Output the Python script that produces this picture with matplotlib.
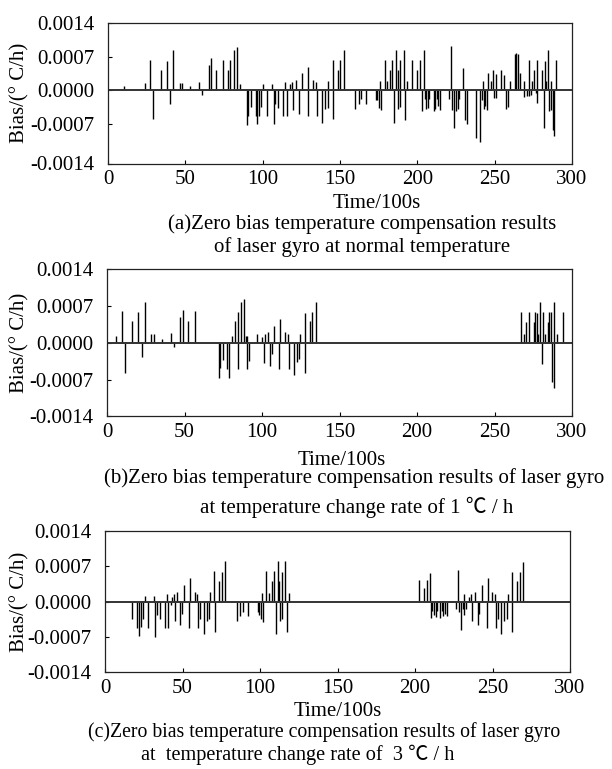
import matplotlib
matplotlib.use("Agg")
import matplotlib.pyplot as plt

plt.rcParams['font.family'] = ['Liberation Serif', 'Noto Sans CJK SC', 'DejaVu Sans']

## (a) normal temperature
t_a = [10.5, 23.8, 27.2, 29.3, 34.1, 37.9, 40.3, 42.2, 46.5, 48.0, 53.1, 58.9, 60.8, 65.1, 66.6,
       69.8, 74.3, 77.5, 79.0, 81.4, 83.1, 85.3, 89.8, 90.6, 92.3, 95.5, 96.6, 97.7, 99.2, 100.1,
       102.6, 106.2, 107.1, 108.0, 109.9, 112.9, 114.4, 115.7, 117.6, 119.1, 119.3, 121.7, 123.4,
       125.7, 129.2, 129.6, 132.8, 134.7, 135.0, 138.4, 140.5, 142.0, 142.2, 145.4, 145.6, 148.5,
       150.1, 152.3, 159.8, 162.1, 163.6, 166.8, 173.3, 174.1, 175.2, 175.8, 176.7, 179.0, 180.7,
       182.2, 183.8, 185.2, 186.1, 187.2, 187.4, 188.9, 189.1, 191.5, 192.2, 193.4, 196.7, 199.9,
       201.8, 203.3, 204.1, 204.8, 205.4, 206.9, 207.8, 210.6, 211.7, 212.7, 213.4, 214.7, 220.2,
       221.5, 222.5, 223.8, 225.3, 226.2, 226.9, 229.4, 230.5, 232.0, 238.2, 240.8, 241.8, 242.4,
       242.9, 243.8, 244.9, 245.7, 247.6, 248.9, 249.7, 250.6, 250.8, 253.8, 255.8, 257.5, 258.5,
       260.0, 263.2, 264.1, 264.9, 266.7, 268.8, 269.1, 271.0, 272.1, 272.3, 273.6, 274.2, 275.7,
       276.5, 277.4, 277.6, 280.6, 281.9, 282.3, 282.9, 284.7, 285.1, 286.2, 286.6, 287.7, 288.5,
       289.8]
v_a = [0.00008, 0.00014, 0.00063, -0.00061, 0.00042, 0.00061, -0.00029, 0.00083, 0.00015, 0.00015,
       0.00008, 0.00018, -0.00010, 0.00053, 0.00067, 0.00042, 0.00062, 0.00042, 0.00062, 0.00084,
       0.00090, 0.00012, -0.00073, -0.00054, -0.00036, -0.00054, -0.00070, -0.00053, -0.00036,
       0.00012, -0.00054, 0.00012, -0.00071, -0.00029, -0.00037, -0.00054, 0.00017, -0.00054,
       0.00012, 0.00017, -0.00041, 0.00022, -0.00049, 0.00036, -0.00054, 0.00049, 0.00022, 0.00017,
       -0.00054, -0.00068, -0.00039, 0.00019, -0.00037, 0.00062, -0.00061, 0.00042, 0.00063,
       0.00083, -0.00039, -0.00029, -0.00019, -0.00029, -0.00020, -0.00021, -0.00037, 0.00019,
       -0.00041, 0.00062, 0.00019, 0.00042, 0.00062, -0.00068, 0.00083, 0.00042, -0.00039, 0.00062,
       -0.00036, 0.00083, -0.00062, 0.00019, 0.00062, 0.00042, 0.00062, -0.00044, 0.00083, -0.00019,
       -0.00039, -0.00037, -0.00019, -0.00044, -0.00039, -0.00019, -0.00034, -0.00041, -0.00019,
       0.00093, -0.00041, -0.00080, -0.00044, -0.00039, -0.00019, 0.00046, -0.00062, -0.00070,
       -0.00100, -0.00109, -0.00020, 0.00019, -0.00039, -0.00034, -0.00041, 0.00036, 0.00019,
       0.00041, -0.00017, 0.00034, -0.00017, 0.00041, 0.00031, -0.00039, -0.00036, 0.00019, 0.00076,
       0.00077, 0.00076, 0.00035, 0.00019, -0.00014, -0.00012, 0.00062, -0.00012, -0.00010, 0.00019,
       0.00042, -0.00007, 0.00062, -0.00027, 0.00042, -0.00080, 0.00061, 0.00019, 0.00083, -0.00044,
       -0.00041, 0.00019, -0.00083, -0.00095, 0.00062]

## (b) 1 C/h
t_b = [6.0, 9.4, 11.6, 16.3, 19.9, 22.7, 24.4, 28.7, 30.4, 35.3, 41.1, 43.1, 47.3, 48.8, 52.1,
       56.6, 72.0, 72.8, 74.7, 77.5, 79.0, 80.5, 82.4, 84.3, 84.8, 86.5, 88.2, 89.5, 90.0, 90.4,
       91.7, 96.8, 100.0, 101.5, 102.0, 104.1, 105.4, 106.5, 108.0, 111.2, 111.8, 115.0, 116.7,
       117.4, 120.8, 122.9, 124.0, 124.7, 127.6, 128.0, 130.8, 132.5, 134.9,
       267.4, 269.3, 270.6, 272.5, 275.7, 276.3, 277.4, 278.3, 279.6, 280.6, 281.5, 282.3, 284.4,
       285.3, 286.4, 287.3, 288.5, 288.6, 290.6, 294.3]
v_b = [0.00014, 0.00060, -0.00057, 0.00041, 0.00058, -0.00026, 0.00078, 0.00016, 0.00016, 0.00008,
       0.00018, -0.00008, 0.00050, 0.00063, 0.00041, 0.00060, -0.00066, -0.00047, -0.00033,
       -0.00049, -0.00066, 0.00013, 0.00041, 0.00058, -0.00050, 0.00078, 0.00083, 0.00013, -0.00050,
       0.00013, -0.00035, 0.00016, 0.00011, -0.00038, 0.00016, 0.00021, -0.00044, -0.00022, 0.00033,
       -0.00050, 0.00046, 0.00021, 0.00017, -0.00050, -0.00061, -0.00036, -0.00031, 0.00017,
       0.00056, -0.00057, 0.00041, 0.00058, 0.00077,
       0.00058, 0.00017, 0.00040, 0.00058, 0.00040, 0.00058, 0.00056, 0.00017, 0.00077, -0.00041,
       0.00058, 0.00017, 0.00040, 0.00058, 0.00058, -0.00075, 0.00077, -0.00086, 0.00017, 0.00058]

## (c) 3 C/h
t_c = [17.5, 20.8, 22.0, 23.1, 24.6, 25.5, 28.0, 31.7, 32.5, 33.6, 35.3, 38.5, 39.8, 40.9, 42.4,
       43.0, 44.3, 44.9, 46.6, 48.3, 49.4, 50.9, 54.1, 55.0, 58.0, 59.5, 60.1, 61.0, 64.0, 65.7,
       67.0, 67.6, 70.6, 70.8, 73.8, 75.5, 77.7, 85.2, 87.3, 89.2, 92.4, 98.4, 99.5, 100.6, 101.2,
       101.8, 104.1, 106.1, 107.6, 109.1, 110.6, 111.5, 112.5, 112.7, 114.0, 114.4, 116.2, 117.3,
       119.0,
       202.6, 205.8, 207.8, 209.7, 210.1, 211.2, 212.0, 213.3, 214.0, 216.3, 217.4, 218.2, 219.3,
       220.4, 226.2, 227.7, 228.5, 229.8, 230.9, 231.7, 231.9, 233.0, 234.9, 236.4, 236.8, 238.8,
       240.7, 241.1, 243.0, 246.5, 246.9, 249.9, 251.7, 252.1, 253.3, 255.7, 257.6, 259.1, 259.7,
       262.7, 262.9, 265.9, 267.6, 269.8]
v_c = [-0.00035, -0.00052, -0.00068, -0.00050, -0.00035, 0.00012, -0.00052, 0.00012, -0.00070,
       -0.00027, -0.00035, -0.00052, 0.00015, -0.00052, -0.00007, 0.00010, 0.00015, -0.00039,
       0.00020, -0.00047, -0.00024, 0.00033, -0.00053, 0.00046, 0.00020, 0.00015, -0.00052,
       -0.00035, -0.00065, -0.00039, -0.00035, 0.00020, 0.00061, -0.00060, 0.00041, 0.00059,
       0.00080, -0.00039, -0.00029, -0.00021, -0.00029, -0.00021, -0.00027, -0.00035, 0.00018,
       -0.00040, 0.00061, 0.00018, 0.00041, 0.00061, -0.00065, 0.00080, 0.00041, -0.00039,
       -0.00035, 0.00059, 0.00080, -0.00060, 0.00018,
       0.00042, 0.00028, 0.00042, 0.00056, -0.00033, -0.00018, -0.00027, -0.00031, -0.00018,
       -0.00033, -0.00018, -0.00029, -0.00024, -0.00029, -0.00014, 0.00063, -0.00021, -0.00057,
       -0.00014, 0.00015, -0.00027, -0.00014, 0.00010, 0.00015, -0.00039, 0.00020, -0.00047,
       -0.00024, 0.00033, -0.00052, 0.00046, 0.00020, 0.00015, -0.00052, -0.00035, -0.00065,
       -0.00039, -0.00035, 0.00016, 0.00059, -0.00060, 0.00041, 0.00059, 0.00079]

xticks = [0, 50, 100, 150, 200, 250, 300]
ytick_labels = ["-0.0014", "-0.0007", "0.0000", "0.0007", "0.0014"]
ylabel = "Bias/(\u00b0 C/h)"
xlabel = "Time/100s"
captions = [
    ["(a)Zero bias temperature compensation results", "of laser gyro at normal temperature"],
    ["(b)Zero bias temperature compensation results of laser gyro",
     "at temperature change rate of 1 \u2103 / h"],
    ["(c)Zero bias temperature compensation results of laser gyro",
     "at  temperature change rate of  3 \u2103 / h"],
]

W, H = 612, 769
fs = 15
fig = plt.figure(figsize=(W/100, H/100), dpi=100)

# left, top, right, bottom in pixels; lower y limit; text positions
boxes = [(108, 23, 572, 163.5), (107, 269.3, 572, 416.5), (105, 531, 570, 672.3)]
ylows = [-0.00153, -0.0014, -0.0014]
xlab_pos = [(377, 203), (342, 460), (338, 711)]
cap_pos = [[(362, 224), (362, 247)], [(354, 478), (357, 507)], [(324, 732), (298, 755)]]
cap_fs = [[fs, fs], [fs, fs], [14.2, 14.6]]
series = [(t_a, v_a), (t_b, v_b), (t_c, v_c)]

for i in range(3):
    l, t, r, b = boxes[i]
    ax = fig.add_axes([l/W, 1-b/H, (r-l)/W, (b-t)/H])
    tt, vv = series[i]
    ax.vlines(tt, 0, vv, color="k", lw=1.0)
    ax.axhline(0, color="#333333", lw=1.4)
    ax.set_xlim(0, 300)
    ax.set_ylim(ylows[i], 0.0014)
    ax.set_xticks(xticks)
    ax.set_yticks([ylows[i], -0.0007, 0, 0.0007, 0.0014])
    ax.set_yticklabels(ytick_labels)
    ax.tick_params(direction="in", length=3, width=0.8, labelsize=fs, colors="k")
    ax.tick_params(axis="x", pad=5)
    ax.tick_params(axis="y", pad=10)
    for s in ax.spines.values():
        s.set_linewidth(0.9)
        s.set_color("#222222")
    ax.set_ylabel(ylabel, fontsize=fs)
    ax.yaxis.set_label_coords((29 - l)/(r - l), 0.5)
    x, y = xlab_pos[i]
    fig.text(x/W, 1-y/H, xlabel, fontsize=fs, ha="center", va="center")
    for (x, y), txt, f in zip(cap_pos[i], captions[i], cap_fs[i]):
        fig.text(x/W, 1-y/H, txt, fontsize=f, ha="center", va="center")

fig.savefig("out.png", dpi=100)
